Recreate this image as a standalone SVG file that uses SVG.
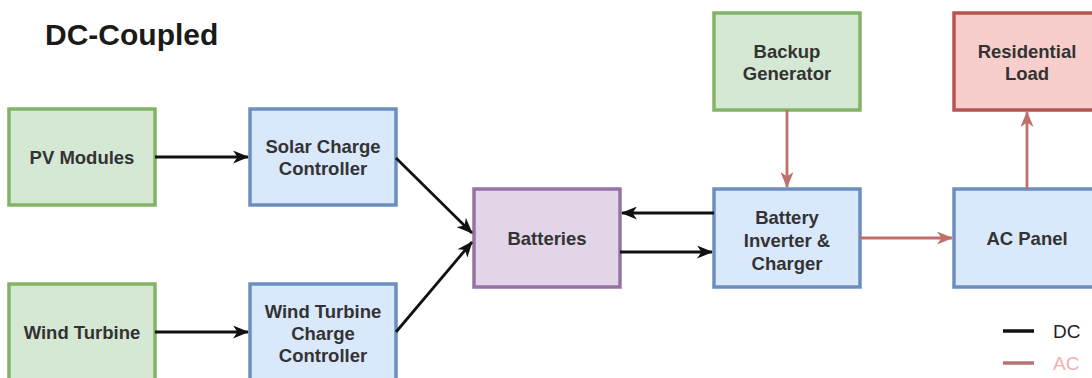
<svg xmlns="http://www.w3.org/2000/svg" width="1092" height="378" viewBox="0 0 1092 378">
<style>
.t{font-family:"Liberation Sans",Arial,sans-serif;font-size:18.5px;font-weight:bold;fill:#333;text-anchor:middle}
.g{fill:#d5e8d4;stroke:#82b366;stroke-width:3.5}
.b{fill:#dae8fc;stroke:#6c8ebf;stroke-width:3.5}
.p{fill:#e1d5e7;stroke:#9673a6;stroke-width:3.5}
.r{fill:#f8cecc;stroke:#b85450;stroke-width:3.5}
.dc{stroke:#111;stroke-width:2.8;fill:none}
.ac{stroke:#c0706a;stroke-width:2.8;fill:none}
.lg{font-family:"Liberation Sans",Arial,sans-serif;font-size:19px}
</style>
<defs>
<marker id="ak" viewBox="0 0 16 13" refX="15" refY="6.5" markerWidth="16" markerHeight="13" markerUnits="userSpaceOnUse" orient="auto">
<path d="M0,0 L16,6.5 L0,13 L4.5,6.5 Z" fill="#111"/>
</marker>
<marker id="ar" viewBox="0 0 16 13" refX="15" refY="6.5" markerWidth="16" markerHeight="13" markerUnits="userSpaceOnUse" orient="auto">
<path d="M0,0 L16,6.5 L0,13 L4.5,6.5 Z" fill="#c0706a"/>
</marker>
</defs>
<rect width="1092" height="378" fill="#fff"/>
<text x="45" y="45" font-family="Liberation Sans,Arial,sans-serif" font-size="30" font-weight="bold" fill="#1a1a1a">DC-Coupled</text>

<g id="pv"><rect class="g" x="9" y="109" width="146" height="96"/><text class="t" x="82" y="164">PV Modules</text></g>
<g id="scc"><rect class="b" x="250" y="109" width="146" height="96"/><text class="t" x="323" y="153">Solar Charge</text><text class="t" x="323" y="175">Controller</text></g>
<g id="wt"><rect class="g" x="9" y="284" width="146" height="110"/><text class="t" x="82" y="339">Wind Turbine</text></g>
<g id="wtcc"><rect class="b" x="250" y="284" width="146" height="110"/><text class="t" x="323" y="318">Wind Turbine</text><text class="t" x="323" y="340">Charge</text><text class="t" x="323" y="362">Controller</text></g>
<g id="bat"><rect class="p" x="474" y="189" width="146" height="98"/><text class="t" x="547" y="245">Batteries</text></g>
<g id="inv"><rect class="b" x="714" y="189" width="146" height="98"/><text class="t" x="787" y="224">Battery</text><text class="t" x="787" y="247">Inverter &amp;</text><text class="t" x="787" y="270">Charger</text></g>
<g id="acp"><rect class="b" x="954" y="189" width="150" height="98"/><text class="t" x="1027" y="245">AC Panel</text></g>
<g id="gen"><rect class="g" x="714" y="13" width="146" height="97"/><text class="t" x="787" y="58">Backup</text><text class="t" x="787" y="80">Generator</text></g>
<g id="load"><rect class="r" x="954" y="13" width="150" height="97"/><text class="t" x="1027" y="58">Residential</text><text class="t" x="1027" y="80">Load</text></g>

<g id="connectors">
<line class="dc" x1="155" y1="157" x2="248" y2="157" marker-end="url(#ak)"/>
<line class="dc" x1="155" y1="332" x2="248" y2="332" marker-end="url(#ak)"/>
<line class="dc" x1="396" y1="158" x2="472" y2="233" marker-end="url(#ak)"/>
<line class="dc" x1="396" y1="332" x2="472" y2="242" marker-end="url(#ak)"/>
<line class="dc" x1="714" y1="213" x2="622" y2="213" marker-end="url(#ak)"/>
<line class="dc" x1="620" y1="252" x2="712" y2="252" marker-end="url(#ak)"/>
<line class="ac" x1="860" y1="238" x2="952" y2="238" marker-end="url(#ar)"/>
<line class="ac" x1="787" y1="110" x2="787" y2="187" marker-end="url(#ar)"/>
<line class="ac" x1="1027" y1="189" x2="1027" y2="112" marker-end="url(#ar)"/>
</g>

<g id="legend">
<line x1="1003" y1="331" x2="1034" y2="331" stroke="#111" stroke-width="3.5"/>
<text class="lg" x="1053" y="338" fill="#222">DC</text>
<line x1="1003" y1="363" x2="1034" y2="363" stroke="#b87070" stroke-width="3.5"/>
<text class="lg" x="1053" y="370" fill="#f0b0b0">AC</text>
</g>
</svg>
